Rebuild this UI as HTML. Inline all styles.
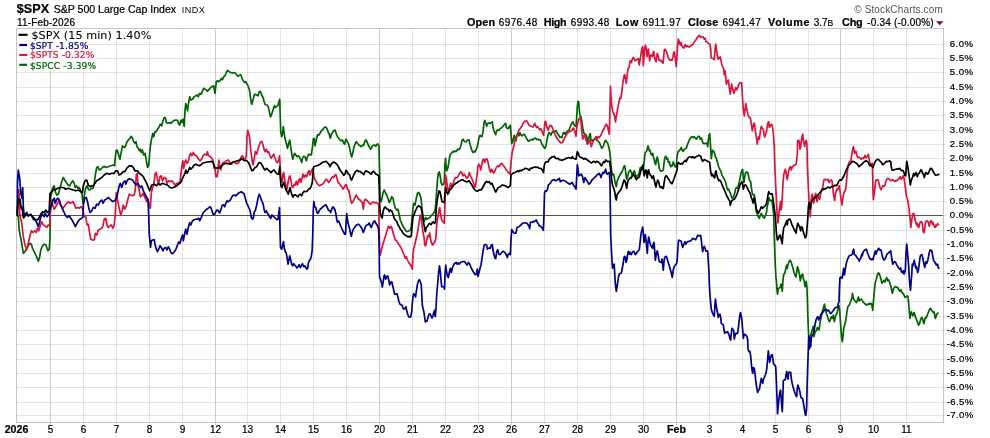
<!DOCTYPE html><html><head><meta charset="utf-8"><title>$SPX</title><style>html,body{margin:0;padding:0;background:#fff}svg{display:block;will-change:transform}text{font-family:"Liberation Sans",sans-serif;fill:#000;stroke:#000;stroke-width:.22px}.m{font-family:"DejaVu Sans","Liberation Sans",sans-serif}</style></head><body>
<svg width="990" height="438" viewBox="0 0 990 438">
<rect width="990" height="438" fill="#fff"/>
<path d="M16.5 44.5H946.0M16.5 58.5H946.0M16.5 72.5H946.0M16.5 87.5H946.0M16.5 101.5H946.0M16.5 115.5H946.0M16.5 130.5H946.0M16.5 144.5H946.0M16.5 158.5H946.0M16.5 173.5H946.0M16.5 187.5H946.0M16.5 201.5H946.0M16.5 230.5H946.0M16.5 244.5H946.0M16.5 258.5H946.0M16.5 273.5H946.0M16.5 287.5H946.0M16.5 301.5H946.0M16.5 316.5H946.0M16.5 330.5H946.0M16.5 344.5H946.0M16.5 359.5H946.0M16.5 373.5H946.0M16.5 387.5H946.0M16.5 402.5H946.0M16.5 415.5H946.0" stroke="#000" stroke-opacity=".105" stroke-width="1" fill="none"/>
<path d="M83.5 28.5V425.0M116.5 28.5V425.0M149.5 28.5V425.0M182.5 28.5V425.0M247.5 28.5V425.0M280.5 28.5V425.0M313.5 28.5V425.0M346.5 28.5V425.0M412.5 28.5V425.0M445.5 28.5V425.0M478.5 28.5V425.0M544.5 28.5V425.0M577.5 28.5V425.0M610.5 28.5V425.0M643.5 28.5V425.0M709.5 28.5V425.0M742.5 28.5V425.0M775.5 28.5V425.0M808.5 28.5V425.0M873.5 28.5V425.0M906.5 28.5V425.0" stroke="#000" stroke-opacity=".105" stroke-width="1" fill="none"/>
<path d="M50.5 28.5V425.0M215.5 28.5V425.0M379.5 28.5V425.0M511.5 28.5V425.0M676.5 28.5V425.0M840.5 28.5V425.0" stroke="#000" stroke-opacity=".2" stroke-width="1" fill="none"/>
<path d="M16.5 215.5H943.5" stroke="#555" stroke-width="1" fill="none"/>
<path d="M943.5 215.5h2.5" stroke="#000" stroke-opacity=".105" stroke-width="1" fill="none"/>
<path d="M17 29H152V41H17zM17 41H88V51H17zM17 51H95V61H17zM17 61H96V71H17z" fill="#fff"/>
<rect x="16.5" y="28.5" width="927.0" height="394.0" fill="none" stroke="#c4c4c4" stroke-width="1"/>
<polyline points="17.3,215.0 18.3,216.7 19.2,230.0 20.8,238.3 22.0,245.0 23.3,253.3 25.0,251.7 26.7,248.3 28.3,245.8 30.0,243.3 31.3,244.2 32.5,248.3 34.2,251.7 35.8,255.0 37.2,258.3 38.3,261.3 39.7,256.7 40.8,250.0 42.5,245.8 44.2,244.2 45.8,244.7 47.0,248.3 48.0,250.8 49.2,249.2 50.0,238.3 50.3,216.7 50.7,195.0 51.3,195.0 52.5,188.3 54.2,185.8 55.3,191.7 56.7,195.0 58.3,194.2 59.7,189.2 60.8,185.0 62.0,180.8 63.3,177.5 64.7,180.0 66.3,182.5 68.0,185.0 69.7,185.8 71.3,182.5 73.0,180.8 74.2,183.3 75.3,187.5 76.7,185.8 78.0,188.3 79.2,187.5 80.8,190.8 82.0,194.2 83.0,203.3 83.7,200.0 84.7,193.3 85.8,187.5 87.0,185.8 88.3,189.2 89.7,190.0 91.3,188.3 93.0,188.3 94.2,184.2 95.3,175.0 96.7,167.5 98.0,166.7 99.2,170.0 100.8,169.2 102.5,167.5 104.2,166.3 105.8,167.5 108.3,166.7 110.8,165.8 113.3,165.0 114.7,165.8 115.3,156.7 116.3,150.0 117.5,150.8 118.7,155.0 120.0,159.2 121.3,151.7 122.5,145.8 124.2,147.5 125.3,146.7 126.7,142.5 128.3,140.0 130.0,138.3 131.3,136.3 132.5,138.3 133.7,141.7 135.0,143.3 136.0,141.7 137.0,146.7 138.3,148.3 139.3,150.8 140.3,149.2 141.3,152.5 142.3,150.0 143.7,155.0 145.0,153.3 146.3,160.0 147.5,167.5 148.7,165.8 149.7,153.3 150.5,145.0 151.7,138.3 152.7,133.3 153.7,136.7 155.0,131.7 156.3,131.7 157.5,129.2 159.2,126.7 160.3,124.2 161.7,125.8 163.0,120.8 164.2,117.5 165.3,117.5 166.3,122.5 168.0,123.3 169.7,122.5 170.8,123.3 172.5,121.7 174.2,120.3 175.8,120.0 177.5,120.3 178.7,124.2 179.7,125.0 180.8,120.0 182.0,122.5 183.0,119.2 184.2,126.3 185.0,110.0 185.8,103.7 186.7,106.7 187.5,110.8 188.3,105.0 189.7,96.7 190.8,100.0 192.5,99.2 194.2,96.7 195.8,95.8 197.0,95.0 198.3,96.7 199.7,93.3 201.3,94.2 202.5,90.8 203.7,88.3 205.0,89.2 206.3,89.7 207.5,91.3 209.2,89.2 210.8,87.5 212.5,86.3 213.7,85.8 215.0,93.3 216.3,81.7 217.5,80.8 218.7,81.7 220.0,80.8 221.3,78.3 222.5,79.7 223.7,76.7 225.0,75.8 226.3,72.5 227.5,70.3 229.2,71.7 230.8,72.5 232.5,73.3 234.2,72.5 235.3,73.0 236.7,75.0 238.0,76.3 239.2,75.3 240.8,74.7 242.0,78.3 243.3,80.8 244.7,82.5 245.8,81.7 247.0,84.2 248.0,85.8 249.2,89.2 250.0,93.3 250.8,100.0 251.7,104.2 253.0,100.0 254.2,95.0 255.3,94.2 256.7,95.0 258.0,95.8 259.2,91.7 260.3,91.3 261.7,95.0 263.0,97.5 264.2,101.7 265.0,104.2 265.8,104.7 267.5,105.3 268.7,108.3 269.7,113.3 270.5,117.0 271.7,114.2 273.0,110.0 274.3,105.8 275.3,107.5 276.7,106.3 278.0,105.3 279.0,101.7 279.7,99.2 280.2,115.0 280.7,131.7 281.7,136.7 282.5,134.2 283.3,126.7 284.2,133.3 285.0,138.3 286.3,143.3 287.5,148.3 288.7,143.3 289.7,140.0 290.7,146.7 291.7,153.3 292.7,159.2 293.7,155.8 294.7,153.3 295.8,155.0 297.0,156.7 298.3,155.8 299.7,157.5 300.8,160.0 301.7,162.5 302.7,157.5 303.7,156.3 305.0,156.7 306.3,160.8 307.5,156.7 308.7,154.2 310.0,154.7 311.3,155.0 312.5,146.7 313.3,139.2 314.2,138.3 315.0,145.8 316.3,140.0 317.5,134.7 318.7,135.3 320.0,133.3 321.3,130.8 322.5,130.0 324.2,127.5 325.8,127.0 327.0,128.7 328.0,131.7 329.2,134.2 330.3,138.3 331.3,134.2 332.5,132.5 333.7,130.8 335.0,130.0 336.3,133.7 337.5,136.7 338.7,138.3 340.0,140.0 341.3,140.8 342.5,140.0 343.7,143.3 344.7,144.2 345.8,139.2 347.0,140.8 348.3,143.3 349.7,148.3 350.8,154.2 351.7,157.0 352.7,153.3 353.7,148.3 355.0,144.2 356.3,141.7 357.5,143.3 358.7,144.7 360.0,145.8 361.3,146.7 362.5,145.0 363.7,145.3 365.0,140.8 366.0,140.0 367.3,142.5 368.3,145.0 369.7,147.5 370.8,149.2 372.0,146.7 373.3,145.3 374.7,145.0 375.8,146.3 377.0,144.2 378.3,144.2 379.0,146.7 379.3,163.0 379.7,175.0 380.0,198.3 381.0,201.7 382.0,198.3 383.0,192.5 384.2,190.0 385.3,192.5 386.7,195.0 388.0,198.3 389.2,202.5 390.3,200.8 391.7,196.7 393.0,198.3 394.2,204.2 395.3,208.3 396.7,210.0 398.0,209.2 399.2,215.0 400.3,220.0 401.7,223.3 403.0,226.3 404.2,228.3 405.3,230.0 406.7,231.7 408.0,231.3 409.2,230.8 410.3,230.3 411.3,226.7 412.2,216.7 413.0,208.3 413.7,203.3 415.0,205.0 416.3,198.3 417.5,193.3 418.7,192.5 420.0,195.0 421.0,198.3 422.0,208.3 423.0,216.7 424.2,220.8 424.3,221.3 425.7,217.5 427.0,219.2 428.3,218.3 429.7,217.5 431.0,215.8 432.3,214.7 433.7,213.0 435.0,210.8 436.0,201.7 436.7,190.0 437.5,180.0 438.3,173.3 439.3,172.0 440.3,176.7 441.3,183.3 442.3,185.0 443.3,184.2 444.3,181.7 445.0,163.3 445.5,158.3 446.2,166.7 446.7,170.8 447.5,169.2 448.3,165.8 449.2,160.0 450.0,155.0 451.0,153.7 452.0,152.5 453.0,151.3 454.0,152.0 455.0,150.8 456.0,151.7 457.0,150.0 458.0,149.2 459.0,149.7 460.0,148.3 461.0,145.0 462.0,140.8 463.0,139.2 464.0,140.8 465.0,141.7 466.0,142.0 467.0,140.8 468.0,139.7 469.0,140.0 470.0,144.2 471.0,147.5 472.0,150.8 473.0,152.5 474.0,151.3 475.0,152.0 476.0,150.0 477.0,147.5 478.0,143.3 479.0,137.5 480.0,135.3 481.0,136.3 482.0,136.7 483.0,131.7 484.0,123.3 484.7,120.3 485.7,122.5 486.7,126.3 487.7,123.7 488.7,123.0 490.0,123.3 491.3,122.5 492.3,122.0 493.0,127.5 494.0,130.8 495.0,133.3 495.7,134.7 496.7,130.8 497.7,129.7 498.7,130.3 499.7,129.2 500.7,128.3 501.7,127.5 503.0,126.3 504.0,125.0 505.0,123.7 505.7,123.3 506.3,127.5 507.3,128.3 508.3,128.7 509.3,126.7 510.3,125.3 511.0,133.3 511.7,143.7 512.7,141.7 513.7,137.5 514.3,135.3 515.3,138.3 516.0,140.8 517.0,135.0 518.0,133.3 519.0,135.8 520.0,132.5 521.0,135.0 522.0,135.8 523.0,134.7 524.0,134.2 525.0,135.3 526.0,137.5 527.0,139.2 528.0,140.8 529.0,141.3 530.0,140.0 531.0,139.7 532.0,139.2 533.0,140.0 534.0,138.7 535.0,138.0 536.0,138.7 537.0,139.7 538.0,139.2 539.0,140.0 540.0,139.7 541.0,141.7 542.0,144.2 543.0,145.8 544.0,147.5 545.0,148.3 546.0,145.8 547.0,140.0 548.0,135.0 549.0,132.5 550.0,133.3 551.0,135.0 552.0,132.5 553.0,131.7 554.0,132.5 555.0,131.3 556.0,130.8 557.0,132.5 558.0,134.2 559.0,135.8 560.0,137.5 561.0,137.0 562.0,137.5 563.0,133.3 564.0,132.5 565.0,134.2 566.0,132.5 567.0,131.7 568.0,130.8 569.0,130.0 570.0,127.5 571.0,125.0 572.0,122.5 573.0,122.0 574.0,125.0 575.0,125.8 576.0,126.7 576.7,116.7 577.3,106.7 578.0,101.3 578.7,102.0 579.3,110.0 580.0,115.8 581.0,116.7 582.0,122.5 583.0,130.0 584.0,133.3 585.0,134.2 586.0,134.7 587.0,138.3 588.0,141.7 588.7,138.3 589.7,134.2 590.3,133.7 591.0,140.0 592.0,140.8 593.0,140.0 594.0,139.2 595.0,138.3 596.0,137.0 596.7,140.0 597.7,140.8 598.7,141.7 599.7,143.0 600.7,145.8 601.7,148.3 602.7,147.5 603.7,145.0 604.7,141.7 605.7,140.3 606.7,142.0 607.7,143.3 608.7,146.7 609.7,151.7 610.3,156.7 611.0,165.0 611.7,171.7 612.7,175.0 613.7,174.2 614.3,177.5 615.3,183.3 616.3,186.7 617.0,181.7 618.0,179.2 619.0,176.7 620.0,175.0 621.0,173.3 622.0,171.7 623.0,169.2 624.0,166.3 624.7,165.8 625.3,169.2 626.0,175.0 626.7,179.2 627.3,177.5 628.3,173.3 629.3,170.8 630.3,170.0 631.3,172.5 632.3,175.8 633.3,172.5 634.3,170.8 635.3,174.2 636.3,177.0 637.3,175.8 638.3,175.0 639.3,172.5 640.3,167.5 641.0,170.0 641.7,169.2 642.7,166.7 643.3,170.0 644.0,163.3 644.7,156.7 645.3,152.0 646.3,151.7 647.0,150.0 648.0,145.8 648.7,148.3 649.3,150.8 650.0,150.3 651.0,154.2 652.0,155.0 652.7,153.3 653.3,156.7 654.3,160.0 655.0,163.3 655.7,164.7 656.7,158.3 657.3,157.0 658.0,160.0 658.7,164.2 659.3,168.3 660.3,170.8 661.3,171.3 662.3,170.8 663.3,170.0 664.0,163.3 664.7,158.3 665.3,156.7 666.0,156.3 666.7,159.2 667.7,158.3 668.3,162.5 669.3,161.7 670.0,165.0 671.0,166.7 672.0,166.3 672.7,163.3 673.3,162.0 674.3,165.0 675.3,167.0 676.3,166.7 677.0,156.7 677.7,153.3 678.3,151.3 679.3,150.8 680.3,149.2 681.3,147.5 682.3,150.8 683.3,151.3 684.3,149.2 685.3,148.7 686.3,148.3 687.3,145.0 688.3,142.5 689.3,140.0 690.3,138.3 691.3,137.0 692.3,136.7 693.3,137.5 694.3,136.7 695.3,138.3 696.3,139.2 697.3,137.5 698.3,136.3 699.3,136.3 700.3,139.2 701.3,138.0 702.0,140.0 703.0,143.3 704.0,143.7 705.0,143.3 706.0,143.7 707.0,143.0 707.7,146.7 708.3,140.0 709.0,135.0 709.7,133.7 710.2,140.0 710.7,148.3 711.3,158.7 712.0,153.3 712.7,150.3 713.7,151.3 714.7,153.3 715.3,156.7 716.3,158.3 717.0,160.8 717.7,163.3 718.7,166.7 719.7,169.2 720.7,170.8 721.7,174.2 722.7,176.7 723.7,178.3 724.7,180.0 725.7,182.5 726.7,186.7 727.7,190.0 728.7,189.2 729.7,191.7 730.7,194.2 731.7,197.5 732.7,198.3 733.7,195.8 734.7,193.3 735.7,188.3 736.7,187.5 737.7,188.3 738.7,184.2 739.7,180.0 740.7,175.0 741.0,173.3 742.0,170.0 742.7,169.7 743.3,178.3 744.0,182.5 744.7,176.7 745.7,172.5 746.7,172.0 747.7,172.5 748.7,176.7 749.7,180.8 750.7,181.7 751.3,187.5 752.3,193.3 753.3,195.0 754.3,194.7 755.0,200.0 755.7,205.8 756.3,211.7 757.3,214.2 758.3,216.7 759.3,218.3 760.3,215.8 761.3,213.3 762.3,215.3 763.3,217.5 764.3,218.0 765.3,215.8 766.3,213.3 767.3,206.7 768.3,201.7 769.0,197.5 769.7,200.0 770.7,200.8 771.7,200.3 772.3,202.5 773.0,208.3 773.7,215.0 774.0,228.3 774.7,248.3 775.3,265.0 776.0,278.3 776.3,280.0 777.0,290.0 777.5,294.2 778.3,288.3 779.3,288.0 780.3,287.5 781.0,284.2 781.7,286.7 782.3,291.3 783.0,280.0 783.7,274.2 784.0,274.2 785.0,272.5 786.0,267.5 786.7,265.0 787.3,268.3 788.0,264.2 789.0,261.7 790.0,260.3 791.0,261.7 792.0,265.0 793.0,268.3 794.0,272.5 795.0,275.0 796.0,277.0 796.7,271.7 797.5,266.7 798.3,269.2 799.7,275.8 800.3,280.8 801.0,277.5 801.7,275.0 802.7,274.2 803.3,278.3 804.3,281.7 805.0,286.7 805.7,284.2 806.3,281.3 807.0,288.3 807.5,303.3 808.0,320.0 808.5,333.3 809.0,338.3 809.7,336.7 810.7,335.8 811.7,331.7 812.7,328.3 813.3,326.3 814.0,336.7 814.7,333.3 815.3,331.7 816.3,330.8 817.3,327.5 818.3,329.2 819.0,330.0 820.0,323.3 821.0,317.5 822.0,313.3 823.0,309.2 824.0,305.8 824.5,304.2 825.3,309.2 826.3,313.3 827.3,315.8 828.3,319.2 829.3,321.7 830.3,320.0 831.3,316.7 832.3,318.3 833.3,315.0 834.3,321.7 835.0,318.3 836.0,315.0 837.0,313.3 837.7,310.0 838.3,307.5 839.0,305.8 839.7,310.0 840.3,320.0 841.0,330.0 841.7,338.3 842.3,341.7 843.0,335.8 843.7,328.3 844.7,325.0 845.7,320.8 846.3,316.7 847.0,311.7 847.7,307.5 848.3,305.8 849.3,305.0 850.3,302.5 851.3,300.0 852.0,296.7 852.5,293.3 853.3,298.3 854.3,300.0 855.3,301.3 856.3,302.5 857.3,300.8 858.0,298.3 858.5,297.0 859.3,300.8 860.3,299.7 861.3,299.2 862.3,300.3 863.3,302.5 864.3,303.0 865.3,304.2 866.3,305.0 867.3,304.2 868.3,304.7 869.3,303.3 870.3,304.2 871.3,303.3 872.0,305.8 872.7,310.3 873.3,303.3 874.0,295.0 874.7,287.5 875.3,282.5 876.3,279.2 877.3,275.0 878.3,273.0 879.3,273.7 880.3,276.7 881.3,280.8 882.0,283.3 883.0,281.7 884.0,280.3 885.0,282.0 886.0,279.2 886.7,277.5 887.7,280.8 888.7,280.0 889.7,282.5 890.7,285.8 891.7,290.0 892.3,293.3 893.3,289.7 894.3,287.5 895.3,286.7 896.7,287.0 898.0,288.0 899.0,290.0 900.0,291.3 901.0,289.7 902.0,292.5 903.0,293.3 904.0,295.0 905.0,297.5 905.3,297.5 906.3,296.7 907.3,295.8 908.0,296.7 908.7,303.3 909.3,311.7 910.0,318.3 910.7,313.3 911.3,311.7 912.0,314.2 912.7,315.8 913.3,314.2 914.0,312.5 914.7,314.2 915.3,316.7 916.0,318.3 916.7,320.0 917.3,321.7 918.0,323.7 918.7,325.0 919.3,324.2 920.0,321.7 920.7,319.2 921.3,318.0 922.0,317.5 922.7,319.2 923.3,321.7 924.0,323.7 924.7,320.0 925.3,317.5 926.0,318.0 926.7,316.7 927.3,315.0 928.0,313.3 928.7,311.7 929.3,310.0 930.0,308.7 930.7,308.3 931.3,310.0 932.0,310.8 932.7,311.3 933.3,312.5 934.0,312.0 934.7,315.0 935.3,318.3 936.0,317.0 936.7,314.2 937.3,313.7 938.0,313.0" fill="none" stroke="#006400" stroke-width="1.7" stroke-linejoin="round" stroke-linecap="round"/>
<polyline points="17.3,215.0 17.6,203.0 18.8,189.7 19.3,200.0 19.6,213.0 20.7,218.7 21.7,222.8 23.3,236.7 25.0,245.0 26.7,249.7 28.3,243.3 30.0,235.8 31.3,230.8 33.0,232.5 34.7,230.8 36.3,232.5 37.5,228.3 38.7,230.8 40.0,226.7 41.7,221.7 43.3,225.0 45.0,225.8 46.7,227.5 48.3,225.0 49.7,225.8 50.5,206.7 51.7,200.0 53.0,205.8 54.2,209.2 55.8,206.7 57.5,203.3 58.7,200.8 60.0,204.2 61.7,206.7 63.0,208.3 64.7,205.8 66.7,203.3 68.3,201.7 70.0,203.3 71.7,202.5 73.0,201.7 74.7,205.0 75.8,208.3 77.5,207.5 79.2,208.3 80.8,206.7 82.0,207.5 83.0,210.0 84.2,216.7 85.8,216.7 87.0,225.0 88.3,224.2 89.7,233.3 90.8,239.2 92.5,240.0 94.2,240.0 95.3,233.3 96.7,235.0 98.3,230.0 100.0,229.2 101.7,228.3 103.0,225.8 104.2,219.2 105.8,218.3 107.0,225.0 108.3,227.5 110.0,225.8 111.3,225.0 113.0,228.3 114.2,225.0 115.3,213.3 116.3,192.5 117.5,200.0 119.2,208.3 120.8,215.0 122.0,211.7 123.3,205.0 124.7,209.2 126.3,205.8 127.5,200.8 129.2,194.2 130.8,195.0 132.5,195.8 134.2,195.0 135.3,189.2 136.3,175.0 137.2,173.3 138.0,185.0 139.2,190.0 140.3,196.7 141.7,195.8 143.0,193.3 144.2,195.8 145.3,198.3 146.7,201.7 148.0,199.2 149.2,205.0 150.3,208.3 151.3,193.3 152.5,187.5 153.7,185.0 155.0,174.2 156.3,172.5 157.5,180.0 158.7,183.3 160.0,176.7 161.3,175.8 162.5,180.8 164.2,177.5 165.8,178.3 167.0,183.3 168.3,180.8 170.0,181.7 171.7,180.8 173.3,182.5 174.2,184.2 175.3,185.0 176.7,183.3 178.3,183.0 180.0,181.7 181.0,173.3 182.0,165.0 182.8,160.8 183.7,168.3 184.7,162.5 185.8,160.0 187.0,163.3 188.3,161.7 189.7,155.0 190.8,153.3 192.0,155.8 193.3,152.5 194.7,155.0 196.3,155.8 197.5,157.5 198.7,159.2 200.0,160.8 201.7,159.2 203.0,155.8 204.7,154.2 206.3,155.0 207.5,151.7 208.3,155.8 209.7,156.3 211.3,157.5 213.0,160.0 214.2,168.3 215.0,169.2 215.8,176.7 217.2,176.7 218.0,170.0 218.8,160.0 219.7,165.8 220.8,170.0 222.0,164.2 223.3,162.5 225.0,161.7 226.7,160.8 228.3,160.0 230.0,163.3 231.7,164.2 233.3,161.7 235.0,162.5 236.7,163.7 238.3,163.0 240.0,160.0 241.3,156.7 242.5,155.8 243.7,158.3 245.0,160.0 246.3,155.8 247.0,136.7 247.7,130.3 248.7,133.3 249.7,138.3 250.8,150.0 252.0,160.0 253.0,165.0 254.2,158.3 255.3,151.7 256.7,154.2 258.0,149.2 259.2,145.0 260.3,142.5 261.7,141.3 263.0,145.0 264.2,150.0 265.0,151.7 266.3,149.2 267.5,152.5 268.7,151.7 270.0,155.8 271.3,158.3 272.5,155.8 273.7,154.2 275.0,158.3 276.3,161.7 277.5,162.5 278.7,160.0 279.5,155.8 280.2,166.7 281.0,178.3 282.0,182.5 283.0,174.2 283.7,172.5 284.7,180.0 285.8,185.0 287.0,189.2 288.0,182.5 289.2,176.7 290.0,175.8 291.0,180.8 292.0,186.7 293.0,187.5 294.2,184.2 295.3,185.0 296.3,181.3 297.5,185.0 298.7,180.8 299.7,178.3 300.8,182.5 302.0,178.3 303.0,174.2 304.2,177.5 305.3,175.0 306.7,176.7 308.0,172.5 309.0,170.8 310.0,175.0 311.0,171.7 312.0,169.7 313.0,168.3 313.7,175.0 314.7,179.2 315.8,180.8 317.0,183.0 318.3,184.7 319.7,185.8 320.8,185.0 322.5,184.2 324.2,182.5 325.3,180.0 326.3,179.2 327.5,180.8 328.7,182.5 330.0,180.8 331.3,178.3 332.5,176.7 333.7,177.5 335.0,175.0 336.0,174.7 337.0,178.3 338.0,182.5 339.2,183.3 340.3,185.0 341.7,186.7 343.0,189.2 344.2,187.5 345.3,185.0 346.3,184.7 347.5,189.2 348.7,190.0 349.7,195.0 350.8,200.8 351.7,203.3 353.0,201.7 354.2,199.2 355.3,196.7 356.3,195.0 357.5,197.5 358.7,199.2 360.0,200.0 361.3,201.7 362.3,202.5 363.3,209.2 364.2,201.7 365.3,199.2 366.7,200.3 368.0,201.7 369.3,203.3 370.7,204.2 372.0,202.5 373.3,202.0 374.7,203.0 376.0,202.5 377.3,203.3 378.7,203.7 379.2,230.0 379.7,253.3 380.3,255.0 381.3,250.0 382.5,245.8 383.7,241.7 385.0,237.5 386.3,233.3 387.5,229.2 388.3,226.3 389.7,228.3 390.8,226.3 391.7,227.5 393.0,232.5 394.2,236.7 395.3,240.0 396.7,240.8 398.0,243.3 399.2,244.7 400.3,246.7 401.7,249.2 403.0,252.5 404.2,255.0 405.3,258.3 406.3,256.7 407.5,260.0 408.7,262.5 410.0,264.2 411.3,266.3 412.3,269.2 413.0,255.0 413.7,248.3 414.7,245.0 415.8,240.0 417.0,235.0 418.0,230.0 419.2,221.7 420.3,215.0 421.2,216.7 422.0,225.0 423.0,231.7 424.2,238.3 424.7,245.0 425.7,245.8 426.7,240.0 427.7,235.8 428.7,236.7 429.7,233.0 430.3,238.3 431.3,242.5 432.7,245.0 433.7,243.3 435.0,241.3 435.8,238.3 436.5,228.3 437.2,220.0 438.0,216.7 439.0,210.0 439.7,207.5 440.7,215.0 441.7,220.0 443.0,221.7 444.3,223.3 445.0,201.7 445.5,175.0 446.3,178.3 447.5,187.5 448.7,192.5 449.7,186.7 450.7,183.3 451.7,187.5 452.7,185.0 454.0,180.8 455.3,177.5 456.7,178.0 458.0,176.7 459.3,173.7 460.7,171.7 461.7,172.5 463.0,175.8 464.3,174.2 465.7,176.7 467.0,178.3 468.3,175.8 469.3,172.5 470.3,175.8 471.7,178.3 473.0,181.7 474.3,185.0 475.3,187.0 476.3,180.0 477.3,173.3 477.7,166.7 478.7,164.2 479.7,165.8 480.7,170.0 481.7,165.0 482.7,160.0 483.7,159.2 484.7,162.5 485.7,159.2 486.7,158.7 487.7,160.8 488.7,165.8 489.7,170.0 490.7,172.0 491.7,169.2 492.7,171.7 493.7,173.0 495.0,170.8 496.3,167.5 497.7,165.8 499.0,166.7 500.3,164.7 501.7,163.3 503.0,165.0 504.3,166.7 505.7,169.2 507.0,170.8 508.3,172.5 510.0,174.2 510.7,166.7 511.3,160.0 512.0,153.3 513.0,149.2 514.0,145.0 515.0,140.0 516.0,137.5 517.0,135.8 518.0,132.5 519.0,130.0 520.0,128.7 521.0,127.5 522.0,125.8 523.0,123.7 524.0,122.0 525.0,121.3 526.0,120.8 527.0,121.3 528.0,123.3 529.0,125.0 530.0,125.8 531.0,126.3 532.0,126.7 533.0,127.0 534.0,125.0 534.7,123.3 535.7,125.8 536.7,127.5 537.7,126.7 538.7,128.3 539.7,129.7 540.7,128.7 541.7,130.8 542.7,133.3 543.7,135.3 544.3,128.3 545.0,121.7 545.7,121.3 546.3,125.0 547.3,128.3 548.3,130.0 549.3,126.7 550.3,125.3 551.3,125.8 552.3,127.5 553.3,130.0 554.3,132.5 555.3,135.0 556.3,137.0 557.3,138.7 558.3,140.0 559.3,141.3 560.3,142.5 561.3,143.0 562.3,142.5 563.3,140.8 564.3,138.7 565.3,136.7 566.3,135.0 567.3,133.3 568.3,132.5 569.3,131.7 570.3,131.3 571.3,130.8 572.3,130.0 573.3,128.0 574.0,129.2 575.0,132.5 576.0,136.3 576.7,128.3 577.7,123.3 578.7,119.2 579.7,118.0 580.7,120.0 581.3,125.0 582.0,133.3 582.7,139.2 583.7,135.8 585.0,135.0 585.3,138.3 586.3,140.8 587.3,144.2 588.3,143.3 589.3,140.0 590.3,141.7 591.3,146.7 592.3,143.3 593.3,140.8 594.3,140.0 595.3,138.3 596.3,136.7 597.3,138.3 598.3,136.7 599.3,137.5 600.3,136.3 601.3,134.2 602.3,131.7 603.3,130.0 604.3,128.0 605.3,125.8 606.3,124.2 607.3,125.8 608.3,130.0 609.3,134.2 609.8,115.0 610.3,95.0 610.5,86.3 611.0,96.7 611.7,105.0 612.7,111.7 613.7,113.3 614.7,116.7 615.5,122.0 616.3,116.7 617.3,110.8 618.0,106.7 620.0,97.5 620.7,98.3 621.3,95.8 622.0,90.0 623.0,81.7 624.0,75.8 624.7,74.7 625.7,80.0 626.3,83.3 627.0,76.7 628.0,68.3 629.0,67.5 629.7,63.3 630.3,60.8 631.3,62.5 632.3,59.2 633.3,57.5 634.3,59.2 635.3,60.8 636.3,59.7 637.3,59.2 638.3,58.7 639.2,65.0 640.0,60.0 641.0,54.2 642.0,48.0 642.7,46.7 643.3,65.8 644.0,57.5 644.7,48.3 645.5,45.3 646.3,49.2 647.0,56.7 647.7,51.7 648.3,49.2 649.0,55.0 649.7,60.8 650.3,55.8 651.3,55.0 652.3,56.7 653.0,53.3 653.7,51.3 654.3,56.7 655.3,60.0 656.0,61.7 656.7,56.7 657.3,53.3 658.0,55.8 659.0,60.0 660.0,60.8 661.0,60.3 662.0,61.7 663.0,63.3 663.7,56.7 664.3,50.0 665.0,49.2 666.0,50.8 667.0,53.3 668.0,56.7 669.0,59.2 670.0,60.3 671.0,60.0 672.0,60.3 673.0,56.7 673.7,52.5 674.3,52.0 675.0,56.7 675.7,62.5 676.3,66.7 677.0,55.0 677.7,45.0 678.3,39.2 679.0,40.8 679.7,44.2 680.3,45.0 681.0,42.5 681.7,44.7 682.7,47.5 683.7,48.0 684.7,45.8 685.3,44.7 686.3,46.7 687.3,45.8 688.3,46.7 689.3,47.0 690.3,46.3 691.3,45.3 692.3,44.7 693.3,44.2 694.3,42.0 695.3,40.8 696.3,39.2 697.3,37.5 698.3,36.3 699.3,35.3 700.3,37.0 701.3,36.7 702.3,37.5 703.3,37.0 704.3,39.2 705.3,38.3 706.0,41.7 707.0,42.0 708.0,43.3 709.0,43.7 710.0,44.2 710.7,50.0 711.3,58.0 712.3,58.3 713.3,58.7 714.3,59.7 715.0,50.0 715.7,44.2 716.3,48.3 717.0,53.3 717.7,57.5 718.3,59.2 719.3,57.5 720.3,57.0 721.0,60.0 721.7,64.2 722.7,66.7 723.7,69.2 724.3,75.0 725.0,70.8 725.7,76.7 726.3,84.2 727.3,81.7 728.3,80.0 729.0,85.0 729.7,90.8 730.3,94.2 731.0,88.3 731.7,84.2 732.3,87.5 733.3,91.7 734.0,93.3 735.0,90.0 735.7,87.5 736.7,90.0 737.7,87.5 738.7,85.0 739.7,83.0 740.7,82.5 741.7,83.0 742.5,98.3 743.3,110.0 744.3,115.8 745.0,110.0 745.7,103.7 746.3,106.7 747.3,111.7 748.3,115.8 749.3,117.5 750.3,117.5 751.0,121.7 751.7,126.7 752.3,130.8 753.0,126.7 754.0,123.0 754.7,125.0 755.3,130.8 756.0,135.0 756.7,139.2 757.3,144.2 758.0,138.3 758.7,136.7 759.3,139.2 760.0,134.2 760.7,129.2 761.3,126.3 762.3,128.3 763.3,129.2 764.0,134.2 764.7,137.0 765.3,135.0 766.0,133.3 766.7,130.0 767.3,125.8 768.0,122.5 768.7,121.7 769.3,127.5 770.0,126.7 770.7,125.0 771.7,124.2 772.3,125.8 773.0,130.0 773.7,138.3 774.3,148.3 774.7,163.3 775.3,176.7 776.0,191.7 776.7,205.0 777.3,216.7 778.0,223.0 778.7,216.7 779.3,210.0 780.0,205.0 780.5,201.7 781.0,210.0 781.7,206.7 782.3,196.7 783.0,183.3 783.7,175.0 784.7,170.8 785.3,169.2 786.0,172.5 786.7,176.7 787.3,179.7 788.0,175.0 788.7,170.8 789.7,167.5 790.7,166.7 791.3,170.0 792.0,167.5 793.0,166.3 794.0,165.3 795.0,165.0 796.0,164.7 796.7,160.0 797.3,153.3 797.7,140.8 798.7,140.3 799.3,141.7 800.0,149.2 800.7,146.7 801.3,141.7 802.0,136.7 802.7,134.2 803.3,140.0 804.0,143.3 804.7,146.3 805.3,142.5 806.0,140.3 806.7,141.7 807.2,151.7 807.3,163.3 807.7,171.7 808.3,186.7 809.0,200.0 809.7,211.7 810.3,216.7 811.0,203.3 811.7,195.0 812.3,194.2 813.0,198.3 813.7,203.3 814.3,200.0 815.0,195.8 815.7,193.3 816.3,198.3 817.0,201.7 817.7,199.2 818.3,195.8 819.0,197.5 819.7,199.2 820.3,195.0 821.0,191.7 821.7,189.2 822.7,188.0 823.3,183.3 824.0,179.7 825.0,179.2 826.0,179.7 827.0,180.0 828.0,179.2 828.7,181.7 829.3,182.5 830.0,180.8 831.0,180.0 832.0,180.8 832.7,186.7 833.3,192.5 834.0,197.5 834.7,200.3 835.3,195.0 836.0,191.7 836.7,189.2 837.3,190.0 838.0,188.7 838.7,186.7 839.3,185.8 840.0,190.8 840.7,196.7 841.3,200.8 842.0,205.0 842.7,200.0 843.3,195.0 844.0,192.5 844.7,191.3 845.7,189.2 846.3,183.3 847.0,175.0 847.7,169.2 848.3,165.0 849.0,162.5 850.0,161.3 851.0,160.8 851.7,155.0 852.0,153.3 852.7,149.2 853.3,146.7 854.0,150.0 854.7,153.3 855.3,151.7 856.0,151.3 856.7,154.2 857.3,156.7 858.0,157.5 859.0,157.0 860.0,158.3 861.0,159.2 862.0,158.0 863.0,158.7 864.0,157.5 865.0,155.3 865.7,158.0 866.7,157.0 867.7,155.8 868.3,154.2 869.0,158.3 869.7,162.5 870.7,163.7 871.7,164.2 872.3,163.3 872.7,175.0 873.0,191.7 873.3,199.7 874.0,195.0 874.7,190.0 875.3,183.3 876.0,180.0 877.0,179.7 878.0,180.0 879.0,183.3 880.0,187.5 881.0,189.7 882.0,187.5 883.0,185.8 884.0,186.3 885.0,185.0 885.7,181.7 886.7,179.2 887.7,178.3 888.7,178.7 889.7,179.7 890.7,180.8 891.7,180.3 892.7,179.7 893.7,180.8 894.7,181.3 895.7,180.3 896.7,180.8 897.7,180.0 898.3,179.2 899.3,178.3 900.3,176.7 901.3,179.2 902.3,177.5 903.0,175.8 903.7,176.7 904.3,180.0 905.0,185.0 905.7,190.0 906.3,195.8 907.0,198.3 907.7,200.0 908.3,203.3 909.0,208.3 909.7,215.0 910.3,221.7 910.8,227.5 911.3,223.3 912.0,218.3 912.7,215.0 913.3,213.3 914.0,214.2 914.7,217.5 915.3,220.8 916.0,223.3 916.7,225.0 917.3,223.3 918.0,226.7 918.7,227.5 919.3,225.0 920.0,222.5 921.0,221.7 922.0,222.5 922.7,227.5 923.3,232.0 924.0,232.5 924.7,228.3 925.3,223.3 926.0,221.3 927.0,220.8 928.0,221.7 928.7,224.2 929.3,226.3 930.0,222.5 930.7,220.8 931.7,221.3 932.3,224.2 933.0,222.5 933.7,225.0 934.3,226.3 935.0,227.5 935.7,225.0 936.3,226.3 937.0,225.0 937.7,223.7 938.3,224.7" fill="none" stroke="#dc143c" stroke-width="1.7" stroke-linejoin="round" stroke-linecap="round"/>
<polyline points="17.3,215.0 17.5,183.3 18.3,170.0 19.7,178.3 20.8,193.3 22.0,198.3 22.7,187.5 23.3,206.7 24.2,216.7 25.8,213.3 26.7,212.5 28.0,215.8 29.2,215.0 30.8,214.2 31.7,215.8 33.3,219.2 35.0,220.0 36.7,222.5 38.3,226.7 39.7,221.7 40.8,216.7 42.5,214.2 44.2,216.7 45.3,213.3 47.0,216.7 48.7,215.0 50.0,210.0 51.7,205.0 53.0,200.0 54.2,198.3 55.3,203.3 56.7,199.2 58.3,198.3 59.7,200.8 60.8,205.0 62.5,209.2 64.2,212.5 65.8,215.8 67.5,217.5 69.2,215.8 70.8,218.3 72.5,220.8 74.2,224.2 75.3,226.7 76.7,224.2 78.3,220.8 80.0,219.2 81.7,218.3 83.0,216.7 83.3,205.0 84.7,198.3 86.3,197.5 87.5,201.7 88.7,207.5 90.0,212.5 91.7,210.8 93.3,207.5 95.0,208.3 96.7,204.2 98.3,205.0 100.0,201.7 101.7,200.0 103.0,203.3 104.7,200.0 106.3,199.2 108.3,197.5 110.0,199.2 111.7,200.8 113.3,201.7 115.0,200.0 116.7,197.5 118.0,191.7 119.2,185.8 120.3,183.3 121.7,187.5 123.3,182.5 125.0,180.8 125.8,184.2 127.5,180.0 129.2,178.7 130.8,179.2 132.5,180.0 134.2,182.5 135.8,185.0 137.5,183.3 139.2,185.8 140.8,187.5 141.7,185.8 143.3,190.8 145.0,194.2 146.7,197.5 148.0,200.0 148.7,215.0 149.3,235.0 150.0,241.7 150.5,247.5 151.3,240.8 152.5,240.0 154.2,239.7 155.0,244.2 156.3,249.2 157.5,251.7 158.7,249.2 160.0,245.8 161.3,247.5 163.0,250.8 164.2,248.3 165.8,247.5 167.0,250.0 168.3,246.7 169.7,249.2 170.8,252.5 172.0,253.7 173.3,253.0 175.0,250.8 176.3,248.3 177.5,245.0 178.7,242.0 180.0,243.3 181.3,238.3 182.5,235.0 183.3,240.8 184.7,233.3 185.8,229.2 187.0,234.2 188.3,227.5 189.7,222.5 190.8,225.0 192.5,220.8 194.2,219.7 195.8,219.2 197.5,219.2 198.7,218.3 199.7,220.8 200.8,218.3 202.0,215.8 203.3,212.5 205.0,210.8 206.7,209.2 208.3,208.3 209.7,206.7 210.8,207.5 212.0,210.8 213.3,214.7 214.7,214.2 215.8,211.7 217.0,210.0 218.3,210.8 219.7,213.0 220.8,210.0 222.0,205.8 223.3,204.7 224.7,206.7 225.8,203.3 227.0,200.8 228.3,201.7 229.7,200.8 230.8,199.2 232.0,196.7 233.3,195.3 234.7,195.0 235.8,195.8 237.0,194.7 238.3,193.3 239.7,192.5 241.3,191.7 243.0,193.0 244.2,194.2 245.3,198.3 246.7,203.3 248.0,205.8 249.2,208.3 250.3,211.7 251.3,217.5 252.5,219.2 253.3,218.3 254.3,211.7 255.3,210.8 256.7,205.0 258.0,198.3 259.2,194.2 260.3,196.7 261.7,200.8 263.0,203.3 264.2,210.0 265.0,212.5 266.3,210.8 267.5,213.3 268.7,215.0 270.0,217.5 270.8,218.3 272.0,215.0 273.3,216.3 274.7,217.5 275.8,218.7 277.0,219.7 278.0,219.2 278.8,213.3 279.5,207.5 280.0,230.0 280.5,247.5 281.7,249.2 282.7,245.0 283.5,241.7 284.3,248.3 285.3,251.7 286.3,253.3 287.2,258.3 288.0,264.2 288.7,260.8 289.7,255.8 290.7,260.0 291.7,264.2 292.7,265.8 293.7,263.7 294.7,265.0 295.8,266.3 297.0,268.0 298.0,266.7 299.2,264.7 300.3,267.5 301.3,265.8 302.5,263.7 303.7,266.7 304.7,265.8 305.8,267.5 306.7,269.2 307.7,268.3 308.3,263.3 309.3,260.8 310.3,259.2 311.3,256.7 312.2,250.0 312.8,233.3 313.3,210.0 313.8,201.7 314.7,206.7 315.8,207.5 317.0,212.5 318.0,213.3 319.2,210.8 320.3,209.2 321.7,208.0 323.0,206.7 324.3,205.8 325.8,204.7 327.0,206.7 328.3,210.0 329.7,210.8 330.7,212.5 331.7,209.2 332.7,207.0 333.7,207.5 335.0,210.0 336.0,214.2 336.7,219.2 337.5,222.5 338.3,220.8 339.3,222.5 340.3,225.0 341.3,227.5 342.5,230.0 343.7,232.5 344.7,234.2 345.5,234.2 346.2,220.0 346.7,213.7 347.3,218.3 348.0,223.3 348.8,225.8 349.7,229.2 350.5,233.3 351.3,236.3 352.2,232.5 353.3,229.2 354.7,227.5 355.8,225.8 357.0,224.7 358.3,224.2 359.7,225.3 360.8,226.7 362.0,228.7 363.3,232.5 364.3,230.0 365.3,226.7 366.7,225.0 368.0,224.7 369.2,223.0 370.3,225.8 371.3,227.5 372.5,224.2 373.7,221.7 374.7,220.8 375.8,223.3 377.0,225.0 378.0,226.7 378.7,230.0 379.2,250.0 379.5,276.7 380.5,279.2 381.5,282.5 382.3,287.0 383.2,281.7 384.0,275.8 384.7,275.0 385.7,279.2 386.7,276.7 387.7,275.8 388.7,280.0 389.7,285.0 390.7,282.5 391.7,281.7 392.7,285.8 393.7,290.0 394.7,294.2 395.8,294.2 397.0,293.7 398.0,297.5 399.0,301.7 400.0,304.2 401.0,304.7 402.0,305.0 403.0,308.3 404.0,309.2 405.0,308.3 406.0,306.7 406.7,310.8 407.7,314.2 408.7,316.7 409.7,317.2 410.8,316.7 411.7,311.7 412.3,303.3 413.0,296.7 413.7,293.7 414.7,295.0 415.5,297.0 416.3,291.7 417.3,285.0 418.3,281.3 419.3,279.7 420.3,281.7 421.2,284.2 421.7,293.3 422.3,305.0 423.0,308.3 424.0,312.5 424.7,317.5 425.3,322.0 426.2,320.8 427.0,321.3 428.0,317.5 429.0,314.2 430.0,313.7 431.0,315.8 432.0,318.0 433.0,315.8 433.8,312.5 434.5,310.3 435.3,316.7 436.0,308.3 436.7,295.0 437.7,283.3 438.7,271.7 439.5,265.8 440.3,271.7 441.0,280.0 441.7,286.7 442.7,286.7 443.7,287.0 444.5,289.2 445.0,275.0 445.7,265.0 446.3,270.0 447.3,275.8 448.3,277.5 449.3,272.5 450.3,268.3 451.3,272.5 452.3,268.3 453.3,265.8 454.3,263.7 455.3,263.0 456.3,262.5 457.3,264.2 458.3,263.0 459.3,264.2 460.3,262.5 461.7,262.0 463.0,261.7 464.3,261.3 465.3,262.5 466.3,264.2 467.3,265.0 468.3,262.5 469.3,263.3 470.3,265.8 471.3,268.3 472.3,270.0 473.3,271.7 474.3,273.3 475.3,274.7 476.3,274.2 477.3,269.2 478.0,276.3 479.0,272.5 480.0,268.3 481.0,265.0 482.0,258.3 483.0,251.7 484.0,245.8 484.7,244.7 485.7,244.7 486.7,245.0 487.3,249.2 488.3,248.3 489.3,248.0 490.3,248.3 491.3,245.0 492.3,244.7 493.0,250.0 494.0,255.0 495.0,258.0 495.7,258.7 496.7,251.7 497.7,249.7 498.3,252.5 499.3,254.7 500.3,254.2 501.3,253.0 502.3,251.7 503.3,251.3 504.3,252.0 505.3,253.0 506.3,255.0 507.3,257.5 508.3,254.2 509.3,253.3 510.3,254.7 511.0,240.0 511.7,229.7 512.7,230.8 513.7,233.0 514.7,233.3 516.0,233.0 517.0,227.5 518.0,227.0 519.0,226.7 520.0,225.8 521.0,225.0 522.0,223.7 523.0,223.0 524.0,223.0 525.0,222.8 526.0,223.0 527.0,223.3 528.0,224.7 529.0,226.3 529.7,228.7 530.3,222.5 531.3,222.0 532.3,222.5 533.3,221.3 534.3,221.7 535.3,220.8 536.3,220.0 537.3,222.5 538.3,223.7 539.3,225.8 540.3,226.3 541.3,227.0 542.3,228.3 543.3,230.3 543.8,220.0 544.5,193.3 545.3,190.8 546.3,191.3 547.3,190.0 548.3,185.0 549.3,184.2 550.3,183.3 551.7,180.8 553.0,180.0 554.3,179.7 555.7,180.8 557.0,180.3 558.3,179.2 559.3,178.3 560.3,181.7 561.7,180.8 563.0,180.3 564.3,180.8 565.7,181.3 567.0,182.5 568.3,183.3 569.7,184.2 571.0,183.3 572.3,182.5 573.3,184.7 574.7,186.7 576.0,189.2 576.7,176.7 577.3,164.7 578.0,169.2 578.8,175.8 580.0,175.0 581.3,174.2 582.5,176.7 583.7,182.5 585.0,177.5 589.0,184.2 590.0,183.3 591.0,181.7 592.0,180.0 593.0,179.2 594.0,178.0 595.0,177.0 596.0,176.3 597.0,175.0 598.0,174.2 599.0,173.3 600.0,175.0 601.0,177.5 602.0,174.2 603.0,172.5 604.0,173.3 605.0,170.8 605.7,169.2 606.3,172.5 607.3,174.2 608.3,173.3 609.3,172.5 610.0,181.7 610.7,235.0 611.3,248.3 612.0,260.0 612.5,268.3 613.3,265.0 614.2,264.2 614.7,273.3 615.3,283.3 616.0,289.2 616.3,291.3 617.3,285.0 618.3,278.3 618.7,275.8 619.7,273.7 620.7,273.3 621.3,273.0 622.3,268.3 623.3,262.5 624.0,257.5 624.7,256.3 625.3,257.0 626.0,262.5 626.7,260.8 627.3,256.7 628.0,252.5 628.7,251.3 629.3,254.2 630.3,252.5 631.3,254.7 632.3,252.5 633.3,251.3 634.3,251.7 635.3,254.7 636.3,253.7 637.3,252.0 638.3,250.8 639.3,249.7 640.0,243.3 640.7,236.7 641.3,232.5 642.0,229.7 642.7,227.0 643.3,233.3 644.0,242.5 644.7,239.2 645.3,234.7 646.0,240.0 646.7,247.5 647.3,253.3 648.0,241.7 648.7,237.0 649.3,240.0 650.0,243.3 651.0,245.8 652.0,247.5 652.7,248.3 653.3,243.3 654.0,242.5 654.7,250.8 655.3,260.3 656.0,255.8 656.7,252.5 657.3,250.8 658.0,254.2 658.7,258.7 659.3,261.7 660.3,262.0 661.3,262.5 662.0,259.2 662.7,265.0 663.3,270.3 664.0,261.7 664.7,257.5 665.3,256.7 666.3,256.3 667.0,258.0 668.0,261.7 669.0,265.0 670.0,268.3 671.0,271.7 671.7,275.0 672.3,277.5 673.0,271.7 673.7,268.0 674.7,265.8 675.7,264.7 676.7,263.3 677.3,258.3 678.0,246.7 678.5,240.3 679.3,240.3 680.3,240.8 681.3,241.3 682.0,245.0 682.7,247.5 683.3,245.8 684.3,243.3 685.0,241.7 685.7,244.2 686.7,242.5 687.7,241.7 688.7,241.3 689.7,241.3 690.7,240.8 691.7,239.7 692.7,238.3 693.7,238.7 694.7,239.2 695.7,239.7 696.7,237.5 697.7,235.3 698.7,235.8 699.7,235.8 700.7,235.3 701.3,240.0 702.0,246.7 702.7,251.7 703.3,248.3 704.3,246.3 705.0,248.3 706.0,251.3 707.0,250.8 707.7,251.3 708.3,261.7 709.0,271.7 709.3,283.3 710.0,295.0 710.7,303.3 711.3,309.2 712.3,312.5 713.3,314.7 714.3,316.3 715.0,303.3 715.5,299.2 716.2,305.8 717.0,310.0 717.7,313.7 718.3,317.5 719.0,315.0 720.0,314.2 720.7,317.5 721.3,323.3 722.3,324.2 723.3,324.7 724.0,330.0 724.7,333.3 725.7,332.0 726.7,332.5 727.7,331.7 728.3,333.3 729.3,335.8 730.0,338.7 730.7,340.0 731.3,333.3 732.0,328.3 733.0,329.7 733.7,330.8 734.3,339.2 735.0,335.8 735.7,333.3 736.7,333.7 737.7,333.0 738.3,328.3 739.0,321.7 739.7,315.8 740.5,312.5 741.3,316.7 742.0,321.7 742.7,330.0 743.3,338.3 744.0,335.0 745.0,334.2 746.0,335.3 747.0,336.7 747.7,340.0 748.0,349.2 749.0,351.7 750.0,351.3 750.7,356.7 751.3,363.3 752.0,370.0 752.7,373.3 753.3,367.5 754.3,368.3 755.0,373.3 755.7,380.0 756.3,385.0 757.0,389.2 757.7,392.5 758.3,390.0 759.3,389.7 760.0,385.8 760.7,381.7 761.3,378.3 762.0,380.0 762.7,383.3 763.3,380.0 764.3,377.5 765.3,375.0 766.3,371.7 767.0,366.7 767.7,358.3 768.3,350.8 769.0,356.7 769.7,362.5 770.3,358.3 771.3,355.3 772.3,354.7 773.0,360.0 773.7,364.2 774.7,365.0 775.7,366.7 776.3,380.0 776.7,390.0 777.2,403.3 777.5,413.8 778.2,406.7 779.0,398.3 779.7,393.3 780.5,390.0 781.2,398.3 781.8,406.7 782.3,411.7 782.8,398.3 783.3,380.8 784.3,380.0 785.3,379.7 786.0,375.0 786.7,371.3 787.3,375.8 788.0,379.2 788.7,372.5 789.7,372.0 790.7,372.5 791.3,378.3 792.0,382.5 793.0,386.7 794.0,390.0 795.0,393.3 796.0,395.8 796.7,396.7 797.3,388.3 798.0,385.0 798.7,387.5 799.7,390.8 800.3,394.2 801.0,397.5 802.0,398.3 802.7,398.7 803.3,402.5 804.0,406.3 804.7,410.8 805.3,414.7 805.8,415.3 806.3,411.7 806.7,405.8 807.0,390.0 807.7,366.7 808.3,350.0 808.7,336.0 809.4,349.0 810.1,337.5 810.7,347.0 811.3,338.0 812.0,335.8 813.0,334.2 814.0,332.5 814.7,326.7 815.3,323.3 816.0,320.0 817.0,317.5 818.0,316.7 818.7,320.0 819.3,317.5 820.0,318.3 820.7,315.0 821.7,313.3 822.7,312.5 823.7,310.8 824.7,310.0 825.7,309.2 826.7,310.0 827.7,310.8 828.7,310.3 829.7,312.5 830.7,313.7 831.7,312.5 832.7,311.3 833.7,310.0 834.7,308.3 835.7,307.5 836.7,307.5 837.7,306.7 838.3,303.3 839.0,301.7 839.5,286.7 840.0,277.5 841.0,277.0 842.0,278.3 842.7,275.0 843.3,270.8 843.7,268.3 844.3,275.0 845.0,271.7 845.7,266.7 846.3,263.3 847.3,260.0 848.3,257.5 849.3,255.8 850.3,255.3 851.3,255.0 852.3,254.2 853.0,250.8 853.7,249.2 854.3,254.2 855.0,255.0 856.0,255.8 857.0,257.5 858.0,258.7 858.7,259.7 859.3,261.3 860.0,259.2 861.0,257.5 861.7,254.2 862.3,255.8 863.0,252.5 864.0,250.8 865.0,249.7 866.0,249.2 866.7,249.7 867.3,252.5 868.3,255.0 869.3,257.5 870.3,259.2 871.3,259.7 872.3,258.7 873.0,259.7 873.7,256.7 874.7,253.3 875.3,250.8 876.0,254.2 876.7,251.7 877.7,250.0 878.7,248.3 879.7,250.0 880.7,249.7 881.3,250.8 882.0,255.0 883.0,258.3 884.0,260.0 885.0,259.2 886.0,256.7 887.0,254.2 888.0,253.3 889.0,252.5 890.0,251.7 890.7,250.8 891.3,255.0 892.0,260.0 892.7,264.2 893.7,262.5 894.7,261.7 895.7,262.5 896.7,265.0 897.7,266.3 898.7,268.0 899.7,269.2 900.7,268.0 901.3,271.7 902.3,272.5 903.3,270.8 904.0,274.2 905.0,271.7 905.3,270.0 906.0,253.3 906.7,244.2 907.3,250.0 908.0,258.3 908.7,266.7 909.3,278.3 910.0,286.7 910.5,290.3 911.0,283.3 911.7,275.0 912.3,264.2 913.0,265.8 913.7,262.5 914.3,260.3 915.0,264.2 915.7,268.0 916.3,266.3 917.0,269.2 917.7,272.5 918.3,270.8 919.0,265.8 919.7,260.0 920.3,255.8 921.3,255.0 922.0,254.7 922.7,257.5 923.3,260.8 924.0,264.2 924.7,267.5 925.3,264.2 926.0,261.7 926.7,263.3 927.3,262.0 928.0,259.2 928.7,255.8 929.3,252.5 930.0,250.3 931.0,250.0 931.7,250.8 932.3,253.3 933.0,257.5 933.7,260.8 934.7,262.0 935.7,263.7 936.3,265.0 937.0,264.2 937.7,264.7 938.3,267.5 938.8,268.3" fill="none" stroke="#00008b" stroke-width="1.7" stroke-linejoin="round" stroke-linecap="round"/>
<polyline points="17.3,215.0 17.3,210.0 18.4,198.6 19.5,202.0 20.2,199.5 20.8,206.0 21.5,209.0 22.2,207.5 22.9,215.7 23.6,218.0 25.0,215.8 26.7,214.2 28.3,215.8 30.8,215.0 32.5,216.7 35.0,219.2 37.5,220.0 39.2,217.5 40.8,214.2 42.5,211.7 44.2,212.5 45.8,210.0 47.5,212.5 49.2,210.8 50.0,193.3 51.7,191.7 53.7,189.2 55.0,190.0 57.5,188.3 60.0,187.5 63.3,187.5 65.8,189.2 68.3,188.3 70.8,189.2 73.3,190.0 75.8,190.8 78.3,190.0 80.8,191.7 82.5,192.5 83.3,185.8 85.0,180.8 86.7,180.0 88.3,185.0 90.0,186.7 91.7,185.8 93.3,185.8 95.0,183.3 96.7,180.8 99.2,179.2 101.7,177.5 104.2,175.0 106.7,173.3 109.2,174.2 111.7,173.3 114.2,173.3 115.8,170.8 117.5,170.8 119.2,175.0 120.8,174.2 123.3,171.7 125.0,171.7 126.7,168.3 129.2,165.8 131.7,165.8 133.3,167.5 135.0,170.8 137.5,170.8 139.2,173.3 141.7,175.0 143.3,176.7 145.0,180.0 146.7,183.3 148.3,187.5 149.7,190.8 150.8,187.5 151.7,185.0 154.2,184.2 156.7,185.8 158.3,183.3 160.0,185.0 162.5,183.3 165.0,184.2 167.5,185.0 170.0,187.5 171.7,188.0 173.3,187.5 175.0,186.7 176.7,185.8 178.3,184.2 180.0,183.3 181.3,181.7 182.5,178.3 183.7,175.8 185.0,173.3 185.8,170.0 187.0,173.3 188.3,170.8 189.7,167.5 190.8,169.2 192.5,167.5 194.2,165.0 195.8,164.2 197.5,165.0 199.2,165.8 200.8,165.0 202.5,163.3 205.0,162.5 207.5,162.0 210.0,161.7 212.0,161.3 213.3,163.3 214.7,167.5 216.3,168.3 218.3,167.5 220.0,168.3 221.7,165.8 223.3,164.2 225.8,163.3 228.3,163.7 230.0,164.2 231.7,162.5 233.3,162.0 235.8,161.3 238.3,160.5 240.0,160.0 241.7,158.7 243.3,160.0 245.0,160.8 246.7,160.5 248.3,162.5 249.7,165.0 250.8,168.3 252.0,170.8 253.3,170.0 255.0,167.5 256.7,166.7 258.0,164.2 259.2,162.5 260.8,163.0 262.5,165.8 264.2,169.2 265.0,170.0 266.7,168.3 268.3,170.0 270.0,171.7 271.3,172.5 272.5,170.8 274.2,170.0 275.8,172.5 277.5,174.2 278.7,174.2 279.7,166.7 280.3,178.3 281.0,185.8 282.0,187.5 283.0,184.2 283.8,182.5 284.7,185.8 285.8,189.2 287.0,191.7 288.3,194.2 289.3,190.0 290.0,187.5 291.0,191.7 292.0,195.0 293.0,197.0 294.2,195.0 295.3,194.7 296.7,195.8 298.0,197.0 299.2,194.7 300.3,194.2 301.7,195.8 303.0,192.5 304.2,191.3 305.8,191.7 307.5,190.8 308.7,189.2 310.0,188.3 311.3,185.8 312.3,182.5 313.0,173.3 313.7,166.7 315.0,166.3 316.7,165.8 318.3,165.3 320.0,164.2 321.7,163.0 323.3,162.0 325.0,161.7 326.3,161.3 327.5,163.0 328.7,163.7 330.0,166.7 331.3,164.2 332.5,162.5 334.2,162.2 335.8,163.3 337.5,165.0 338.7,167.5 340.0,169.7 341.3,171.7 342.5,173.3 343.7,175.3 345.0,174.2 346.0,170.3 347.0,171.3 348.3,174.2 349.7,174.7 350.8,179.2 351.7,180.0 352.7,177.5 353.7,175.0 355.0,172.5 356.3,170.8 357.5,170.3 358.7,171.7 360.0,171.3 361.3,172.5 362.5,173.3 363.7,174.7 365.0,171.7 366.0,170.8 367.3,171.7 368.7,172.0 370.0,173.3 371.3,174.2 372.5,171.7 373.7,171.3 375.0,173.3 376.3,174.2 377.7,175.0 378.7,175.8 379.2,186.7 379.7,206.7 380.3,213.3 381.3,216.7 382.2,218.0 383.0,211.7 384.2,208.0 385.3,207.0 386.7,208.7 388.0,209.2 389.2,211.7 390.3,210.0 391.7,210.8 393.0,214.2 394.2,218.3 395.3,220.0 396.7,221.3 398.0,225.0 399.2,226.7 400.3,229.2 401.7,230.8 403.0,233.0 404.2,234.2 405.3,235.3 406.7,235.8 408.0,237.0 409.2,236.3 410.3,237.0 411.3,235.8 412.2,225.0 413.0,216.7 414.0,215.0 415.0,211.7 416.3,209.2 417.5,206.7 418.7,205.8 420.0,206.7 421.3,208.3 422.5,215.0 423.7,223.3 424.7,228.3 425.3,231.7 426.3,227.5 427.5,226.3 428.7,224.2 429.7,223.3 431.0,224.7 432.0,223.0 433.3,222.0 434.7,223.3 435.5,221.7 436.2,210.0 437.0,201.7 438.0,195.8 439.0,190.8 440.0,191.7 441.0,196.7 442.0,201.7 443.3,202.0 444.3,202.5 445.0,193.3 445.7,187.5 446.7,191.7 447.7,194.2 448.7,192.5 449.7,190.0 450.8,189.2 452.0,187.5 453.3,185.8 454.7,184.2 456.0,183.3 457.3,182.5 458.7,181.3 460.0,180.8 461.3,180.0 462.7,179.7 464.0,180.8 465.3,181.3 466.7,182.0 468.0,181.3 469.3,180.8 470.7,183.3 472.0,185.3 473.3,187.5 474.7,189.7 476.0,190.8 477.3,191.3 478.7,190.3 480.0,189.7 481.3,190.0 482.7,187.5 484.0,185.0 485.3,182.5 486.7,181.3 488.0,182.5 489.3,181.7 490.7,184.2 492.0,183.3 493.3,186.7 494.7,190.0 495.8,192.0 497.0,189.7 498.3,187.5 499.7,187.0 501.0,185.8 502.3,185.0 503.7,185.3 505.0,185.8 506.3,186.3 507.7,187.5 509.0,186.7 510.3,185.8 511.0,175.0 512.0,174.2 513.3,173.0 514.7,172.5 516.0,172.0 517.3,170.8 518.7,171.7 520.0,170.3 521.3,170.8 522.7,169.7 524.0,169.2 525.3,168.3 526.7,168.7 528.0,169.2 529.3,170.3 530.7,168.0 532.0,168.3 533.3,167.5 534.7,167.0 536.0,167.5 537.3,167.0 538.7,168.0 540.0,168.3 541.3,168.7 542.7,170.8 543.5,172.5 544.3,165.0 545.3,162.5 546.7,161.7 548.0,162.0 549.3,159.2 550.7,158.0 552.0,157.0 553.3,156.7 554.3,156.3 555.3,158.0 556.7,158.7 558.0,158.3 559.3,159.7 560.7,160.0 562.0,160.3 563.3,159.7 564.7,159.2 566.0,158.3 567.3,158.0 568.7,157.5 570.0,158.0 571.3,158.3 572.3,156.7 573.3,158.3 574.7,158.7 576.0,159.2 576.7,155.0 577.3,151.7 578.0,152.5 579.0,155.8 580.0,157.0 581.3,157.5 582.7,158.3 584.0,159.2 585.0,158.3 590.7,162.5 591.7,163.0 592.7,162.0 593.7,161.3 594.7,161.7 595.7,162.5 596.7,161.3 597.7,161.7 598.7,162.5 599.7,163.3 600.7,165.0 601.7,165.8 602.7,163.3 603.7,161.7 604.7,162.5 605.7,160.0 606.7,160.8 607.7,161.7 608.7,161.3 609.7,161.3 610.3,166.7 611.0,173.3 611.7,180.0 612.7,185.8 613.7,188.3 614.7,191.7 615.7,198.3 616.3,200.0 617.0,195.0 618.0,193.3 619.0,192.0 620.0,190.8 621.0,189.2 622.0,186.7 623.0,183.3 624.0,180.0 625.0,180.8 626.0,185.0 626.7,188.3 627.3,183.7 628.3,180.0 629.3,179.2 630.3,177.5 631.3,178.0 632.3,175.8 633.3,174.2 634.3,175.8 635.3,177.5 636.3,179.7 637.3,178.3 638.3,177.5 639.3,177.0 640.3,172.5 641.3,169.2 642.3,166.3 643.0,165.0 643.7,173.3 644.3,175.8 645.0,170.8 646.0,170.0 646.7,174.2 647.3,178.0 648.0,170.8 648.7,170.0 649.3,173.3 650.3,175.0 651.3,176.3 652.3,178.3 653.3,175.8 654.3,180.0 655.3,185.0 656.0,187.0 656.7,183.3 657.7,180.0 658.7,181.7 659.7,186.7 660.7,187.5 661.7,186.7 662.7,188.3 663.3,188.3 664.0,183.7 665.0,177.5 666.0,175.8 667.0,176.3 668.0,178.3 669.0,179.7 670.0,181.7 671.0,183.0 672.0,183.7 673.0,181.3 674.0,178.7 675.0,175.8 676.0,173.3 677.0,170.0 677.7,163.3 678.3,162.5 679.3,163.3 680.3,164.2 681.3,163.3 682.3,164.2 683.3,162.5 684.3,161.3 685.3,160.3 686.3,161.7 687.0,159.7 688.0,158.0 689.0,157.0 690.0,157.0 691.0,156.7 692.0,157.5 693.0,156.7 694.0,158.0 695.0,157.5 696.0,156.7 697.0,156.3 698.0,155.8 699.0,155.3 700.0,155.8 701.0,156.7 701.7,159.7 702.7,161.3 703.7,160.0 704.7,159.7 705.7,160.3 706.7,160.8 707.7,161.3 708.7,161.7 709.7,162.5 710.3,168.3 711.0,173.3 711.7,175.8 712.7,174.2 713.7,177.0 714.7,178.0 715.3,172.5 716.0,170.8 716.7,175.0 717.7,178.0 718.7,180.8 719.7,180.0 720.7,181.3 721.7,183.7 722.7,186.3 723.7,188.3 724.7,190.8 725.7,193.3 726.7,195.8 727.7,197.5 728.7,199.7 729.7,200.8 730.3,205.3 731.3,201.7 732.3,200.0 733.3,199.7 734.3,199.2 735.3,197.5 736.3,195.8 737.3,193.3 738.3,190.0 739.3,187.5 740.0,185.0 741.0,183.3 742.0,181.7 742.7,184.2 743.3,189.2 744.3,185.8 745.3,184.7 746.3,185.8 747.3,188.0 748.3,190.0 749.3,191.7 750.3,193.7 751.3,197.5 752.3,200.0 753.0,203.0 753.7,199.2 754.3,197.5 755.0,200.8 755.7,205.0 756.3,209.2 757.3,210.8 758.3,213.3 759.3,211.7 760.3,209.2 761.3,206.7 762.3,208.3 763.3,207.5 764.3,206.7 765.3,205.8 766.3,204.2 767.3,199.2 768.0,195.0 768.7,191.7 769.7,193.3 770.7,194.2 771.7,193.7 772.3,194.2 773.0,199.2 774.0,206.7 774.7,211.7 775.3,216.7 775.7,221.7 776.3,231.7 777.3,240.0 778.3,239.2 779.3,235.8 780.3,235.0 781.3,240.0 782.2,243.7 783.0,233.3 783.7,227.5 784.7,226.3 785.7,223.3 786.7,220.8 787.3,225.0 788.0,220.0 789.0,219.2 790.0,219.2 791.0,221.7 792.0,225.0 793.0,226.7 794.0,229.2 795.0,230.8 796.0,233.0 796.7,228.3 797.7,223.3 798.7,225.0 799.7,227.5 800.7,230.8 801.3,226.7 802.3,227.5 803.3,231.7 804.3,235.0 805.3,238.0 806.3,235.8 807.0,228.3 807.7,220.0 808.3,207.5 809.0,202.5 809.7,206.7 810.3,209.2 811.0,203.3 812.0,200.8 813.0,199.2 814.0,198.3 815.0,196.7 816.0,197.5 817.0,195.8 818.0,194.7 819.0,193.7 820.0,192.5 821.0,191.7 822.0,190.0 823.0,189.7 824.0,188.7 825.0,189.2 826.0,188.3 827.0,188.0 828.0,187.0 829.0,187.5 830.0,188.0 831.0,187.0 832.0,186.3 833.0,186.7 834.0,185.8 835.0,185.3 836.0,185.8 837.0,185.0 838.0,183.3 839.0,180.8 840.0,179.7 841.0,180.3 842.0,179.2 843.0,177.5 844.0,175.8 845.0,173.3 846.0,170.8 847.0,168.3 848.0,166.3 849.0,165.0 850.0,164.2 851.0,163.0 852.0,162.0 853.0,161.3 854.0,161.7 855.0,162.5 856.0,163.0 857.0,163.7 858.0,165.0 859.0,166.7 860.0,165.8 861.0,164.7 862.0,164.2 863.0,163.0 864.0,162.0 865.0,161.3 866.0,160.8 867.0,161.3 868.0,162.0 869.0,164.2 870.0,165.8 871.0,165.0 872.0,166.3 873.0,167.5 873.7,165.3 874.7,163.0 875.7,160.8 876.7,159.7 877.7,159.2 878.7,159.7 879.7,160.8 880.7,161.7 881.7,163.0 882.7,164.7 883.7,164.2 884.7,163.0 885.7,162.0 886.7,161.3 887.7,161.7 888.7,161.3 889.7,160.8 890.7,161.7 891.3,166.7 892.0,170.0 893.0,170.3 894.3,169.7 895.7,169.2 897.0,168.7 898.3,169.2 899.7,168.3 900.7,169.7 901.7,170.8 902.7,170.3 903.7,171.7 904.7,175.0 905.7,175.8 906.3,166.7 906.8,161.3 907.5,165.0 908.3,170.0 909.0,175.0 909.7,180.0 910.3,185.0 911.0,181.7 911.7,179.2 912.7,176.7 913.7,173.3 914.3,175.8 915.0,175.0 916.0,172.5 916.7,174.2 917.3,176.7 918.0,174.2 919.0,173.3 920.0,171.7 921.0,169.7 922.0,171.3 922.7,173.3 923.7,175.0 924.3,177.5 925.0,175.0 925.7,172.5 926.7,173.3 927.7,174.2 928.7,172.5 929.7,170.0 930.7,168.3 931.7,168.7 932.7,170.8 933.7,172.5 934.7,174.2 935.7,175.3 936.7,175.0 937.7,174.7 938.7,174.7" fill="none" stroke="#000" stroke-width="1.7" stroke-linejoin="round" stroke-linecap="round"/>
<text x="949.7" y="47.2" font-size="9.6" textLength="23.4" lengthAdjust="spacing">6.0%</text>
<text x="949.7" y="61.2" font-size="9.6" textLength="23.4" lengthAdjust="spacing">5.5%</text>
<text x="949.7" y="75.2" font-size="9.6" textLength="23.4" lengthAdjust="spacing">5.0%</text>
<text x="949.7" y="90.2" font-size="9.6" textLength="23.4" lengthAdjust="spacing">4.5%</text>
<text x="949.7" y="104.2" font-size="9.6" textLength="23.4" lengthAdjust="spacing">4.0%</text>
<text x="949.7" y="118.2" font-size="9.6" textLength="23.4" lengthAdjust="spacing">3.5%</text>
<text x="949.7" y="133.2" font-size="9.6" textLength="23.4" lengthAdjust="spacing">3.0%</text>
<text x="949.7" y="147.2" font-size="9.6" textLength="23.4" lengthAdjust="spacing">2.5%</text>
<text x="949.7" y="161.2" font-size="9.6" textLength="23.4" lengthAdjust="spacing">2.0%</text>
<text x="949.7" y="176.2" font-size="9.6" textLength="23.4" lengthAdjust="spacing">1.5%</text>
<text x="949.7" y="190.2" font-size="9.6" textLength="23.4" lengthAdjust="spacing">1.0%</text>
<text x="949.7" y="204.2" font-size="9.6" textLength="23.4" lengthAdjust="spacing">0.5%</text>
<text x="949.7" y="218.2" font-size="9.6" textLength="23.4" lengthAdjust="spacing">0.0%</text>
<text x="946.8" y="233.2" font-size="9.6" textLength="26.4" lengthAdjust="spacing">-0.5%</text>
<text x="946.8" y="247.2" font-size="9.6" textLength="26.4" lengthAdjust="spacing">-1.0%</text>
<text x="946.8" y="261.2" font-size="9.6" textLength="26.4" lengthAdjust="spacing">-1.5%</text>
<text x="946.8" y="276.2" font-size="9.6" textLength="26.4" lengthAdjust="spacing">-2.0%</text>
<text x="946.8" y="290.2" font-size="9.6" textLength="26.4" lengthAdjust="spacing">-2.5%</text>
<text x="946.8" y="304.2" font-size="9.6" textLength="26.4" lengthAdjust="spacing">-3.0%</text>
<text x="946.8" y="319.2" font-size="9.6" textLength="26.4" lengthAdjust="spacing">-3.5%</text>
<text x="946.8" y="333.2" font-size="9.6" textLength="26.4" lengthAdjust="spacing">-4.0%</text>
<text x="946.8" y="347.2" font-size="9.6" textLength="26.4" lengthAdjust="spacing">-4.5%</text>
<text x="946.8" y="362.2" font-size="9.6" textLength="26.4" lengthAdjust="spacing">-5.0%</text>
<text x="946.8" y="376.2" font-size="9.6" textLength="26.4" lengthAdjust="spacing">-5.5%</text>
<text x="946.8" y="390.2" font-size="9.6" textLength="26.4" lengthAdjust="spacing">-6.0%</text>
<text x="946.8" y="405.2" font-size="9.6" textLength="26.4" lengthAdjust="spacing">-6.5%</text>
<text x="946.8" y="418.2" font-size="9.6" textLength="26.4" lengthAdjust="spacing">-7.0%</text>
<text x="16.5" y="433" font-size="10.6" font-weight="bold" text-anchor="middle">2026</text>
<text x="50.5" y="433" font-size="10" text-anchor="middle">5</text>
<text x="83.5" y="433" font-size="10" text-anchor="middle">6</text>
<text x="116.5" y="433" font-size="10" text-anchor="middle">7</text>
<text x="149.5" y="433" font-size="10" text-anchor="middle">8</text>
<text x="182.5" y="433" font-size="10" text-anchor="middle">9</text>
<text x="215.5" y="433" font-size="10" text-anchor="middle">12</text>
<text x="247.5" y="433" font-size="10" text-anchor="middle">13</text>
<text x="280.5" y="433" font-size="10" text-anchor="middle">14</text>
<text x="313.5" y="433" font-size="10" text-anchor="middle">15</text>
<text x="346.5" y="433" font-size="10" text-anchor="middle">16</text>
<text x="379.5" y="433" font-size="10" text-anchor="middle">20</text>
<text x="412.5" y="433" font-size="10" text-anchor="middle">21</text>
<text x="445.5" y="433" font-size="10" text-anchor="middle">22</text>
<text x="478.5" y="433" font-size="10" text-anchor="middle">23</text>
<text x="511.5" y="433" font-size="10" text-anchor="middle">26</text>
<text x="544.5" y="433" font-size="10" text-anchor="middle">27</text>
<text x="577.5" y="433" font-size="10" text-anchor="middle">28</text>
<text x="610.5" y="433" font-size="10" text-anchor="middle">29</text>
<text x="643.5" y="433" font-size="10" text-anchor="middle">30</text>
<text x="676.5" y="433" font-size="10.6" font-weight="bold" text-anchor="middle">Feb</text>
<text x="709.5" y="433" font-size="10" text-anchor="middle">3</text>
<text x="742.5" y="433" font-size="10" text-anchor="middle">4</text>
<text x="775.5" y="433" font-size="10" text-anchor="middle">5</text>
<text x="808.5" y="433" font-size="10" text-anchor="middle">6</text>
<text x="840.5" y="433" font-size="10" text-anchor="middle">9</text>
<text x="873.5" y="433" font-size="10" text-anchor="middle">10</text>
<text x="906.5" y="433" font-size="10" text-anchor="middle">11</text>
<path d="M16.0 436.5h1M50.0 436.5h1M83.0 436.5h1M116.0 436.5h1M149.0 436.5h1M182.0 436.5h1M215.0 436.5h1M247.0 436.5h1M280.0 436.5h1M313.0 436.5h1M346.0 436.5h1M379.0 436.5h1M412.0 436.5h1M445.0 436.5h1M478.0 436.5h1M511.0 436.5h1M544.0 436.5h1M577.0 436.5h1M610.0 436.5h1M643.0 436.5h1M676.0 436.5h1M709.0 436.5h1M742.0 436.5h1M775.0 436.5h1M808.0 436.5h1M840.0 436.5h1M873.0 436.5h1M906.0 436.5h1" stroke="#ccc" stroke-width="1"/>
<text x="16.7" y="13.3" font-size="12.6" font-weight="bold" textLength="32.5" lengthAdjust="spacing">$SPX</text>
<text x="53.7" y="12.7" font-size="10.6" textLength="122.4" lengthAdjust="spacing">S&amp;P 500 Large Cap Index</text>
<text x="181.8" y="12.7" font-size="9" textLength="23" lengthAdjust="spacing" style="stroke-width:0">INDX</text>
<text x="17" y="25.6" font-size="10" textLength="58" lengthAdjust="spacing">11-Feb-2026</text>
<text x="854.2" y="13" font-size="10" textLength="88.6" lengthAdjust="spacing" style="fill:#555;stroke-width:0">© StockCharts.com</text>
<text x="467" y="25.8" font-size="10.8" font-weight="bold" textLength="28" lengthAdjust="spacing">Open</text>
<text x="498.7" y="25.8" font-size="10" textLength="38.6" lengthAdjust="spacing">6976.48</text>
<text x="543.7" y="25.8" font-size="10.8" font-weight="bold" textLength="23" lengthAdjust="spacing">High</text>
<text x="570.8" y="25.8" font-size="10" textLength="38.4" lengthAdjust="spacing">6993.48</text>
<text x="615.8" y="25.8" font-size="10.8" font-weight="bold" textLength="22.5" lengthAdjust="spacing">Low</text>
<text x="642.5" y="25.8" font-size="10" textLength="38.3" lengthAdjust="spacing">6911.97</text>
<text x="688" y="25.8" font-size="10.8" font-weight="bold" textLength="30.3" lengthAdjust="spacing">Close</text>
<text x="722.5" y="25.8" font-size="10" textLength="38.3" lengthAdjust="spacing">6941.47</text>
<text x="768.1" y="25.8" font-size="10.8" font-weight="bold" textLength="41.4" lengthAdjust="spacing">Volume</text>
<text x="842.1" y="25.8" font-size="10.8" font-weight="bold" textLength="20.6" lengthAdjust="spacing">Chg</text>
<text x="867.1" y="25.8" font-size="10" textLength="66.6" lengthAdjust="spacing">-0.34 (-0.00%)</text>
<text x="813.7" y="25.8" font-size="10">3.7<tspan font-size="8.6">B</tspan></text>
<path d="M936 21.2h7.4l-3.7 4z" fill="#8b0030"/>
<path d="M18.6 34.8h9" stroke="#000" stroke-width="2.2"/>
<text class="m" x="31.4" y="39.3" font-size="11.2" textLength="119.9" lengthAdjust="spacing" style="fill:#000;stroke-width:.08px">$SPX (15 min) 1.40%</text>
<path d="M19.3 45h7.8" stroke="#00008b" stroke-width="2.2"/>
<text x="29.9" y="48.5" font-size="9.1" textLength="58.4" lengthAdjust="spacing" style="fill:#00008b;stroke:#00008b" class="m">$SPT -1.85%</text>
<path d="M19.3 55h7.8" stroke="#dc143c" stroke-width="2.2"/>
<text x="29.9" y="58.4" font-size="9.1" textLength="64.4" lengthAdjust="spacing" style="fill:#dc143c;stroke:#dc143c" class="m">$SPTS -0.32%</text>
<path d="M19.3 64.8h7.8" stroke="#006400" stroke-width="2.2"/>
<text x="29.9" y="68.5" font-size="9.1" textLength="66.3" lengthAdjust="spacing" style="fill:#006400;stroke:#006400" class="m">$SPCC -3.39%</text>
</svg></body></html>
